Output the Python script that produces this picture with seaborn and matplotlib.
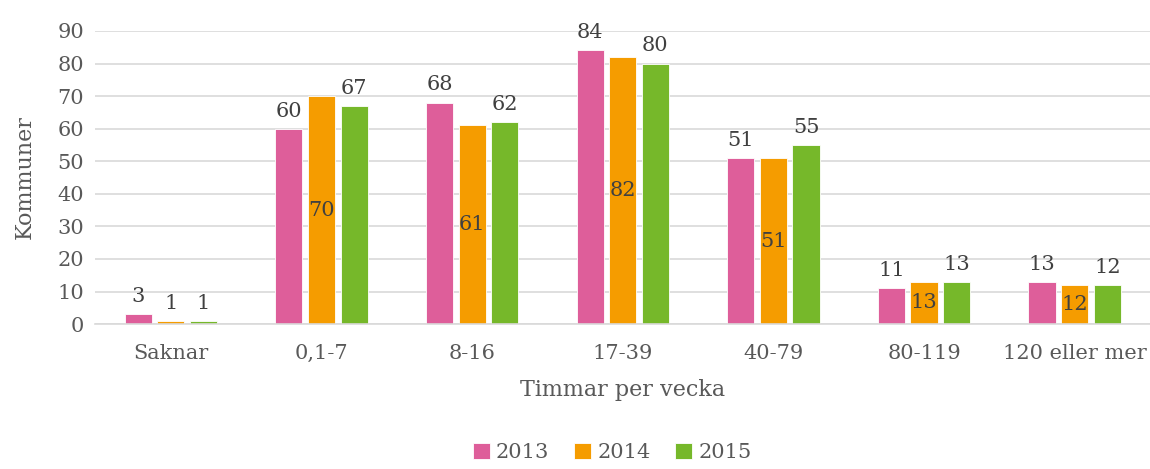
import pandas as pd
import matplotlib.pyplot as plt
import seaborn as sns

# Timmar per vecka - antal kommuner per år

kategorier = ["Saknar", "0,1-7", "8-16", "17-39", "40-79", "80-119", "120 eller mer"]
ar = ["2013", "2014", "2015"]
v2013 = [3, 60, 68, 84, 51, 11, 13]
v2014 = [1, 70, 61, 82, 51, 13, 12]
v2015 = [1, 67, 62, 80, 55, 13, 12]

farger = ["#DE5E9A", "#F59C00", "#76B82A"]
textfarg = "#595959"

df = pd.DataFrame({
    "kategori": kategorier * 3,
    "ar": [a for a in ar for _ in kategorier],
    "antal": v2013 + v2014 + v2015,
})

sns.set_theme(style="white")
plt.rcParams['font.family'] = ['DejaVu Serif', 'DejaVu Sans']

fig = plt.figure(figsize=(11.5, 4.69), dpi=100)
ax = fig.add_axes([0.083, 0.309, 0.917, 0.625])

sns.barplot(data=df, x="kategori", y="antal", hue="ar", palette=farger,
            saturation=1, width=0.65, gap=0.17, ax=ax,
            edgecolor="white", linewidth=0.6)

ax.set_ylim(0, 90)
ax.set_yticks(range(0, 91, 10))
ax.yaxis.grid(True, color="#D9D9D9", linewidth=1.2)
ax.set_axisbelow(True)
for s in ["top", "right", "left"]:
    ax.spines[s].set_visible(False)
ax.spines["bottom"].set_color("#D9D9D9")
ax.spines["bottom"].set_linewidth(1.2)
ax.tick_params(axis="y", length=0, labelsize=15, labelcolor=textfarg, pad=8)
ax.tick_params(axis="x", length=0, labelsize=15, labelcolor=textfarg, pad=14)
ax.set_xlim(-0.5, 6.5)

ax.set_xlabel("Timmar per vecka", fontsize=16, color=textfarg, labelpad=12)
ax.set_ylabel("Kommuner", fontsize=16, color=textfarg, labelpad=16)

# dataetiketter: 2014 inne i stapeln, övriga ovanför
for i, cont in enumerate(ax.containers):
    for bar in cont:
        h = bar.get_height()
        x = bar.get_x() + bar.get_width() / 2
        if i == 1 and h > 5:
            ax.text(x, h / 2, f"{int(h)}", ha="center", va="center",
                    fontsize=15, color="#404040")
        else:
            ax.text(x, h + 2.5, f"{int(h)}", ha="center", va="bottom",
                    fontsize=15, color="#404040")

ax.legend(loc="lower center", bbox_to_anchor=(0.49, -0.485), ncol=3,
          frameon=False, fontsize=15, handlelength=0.8, handleheight=0.8,
          handletextpad=0.3, columnspacing=1.2, labelcolor=textfarg,
          borderaxespad=0, borderpad=0.2)

fig.savefig("out.png", dpi=100)
